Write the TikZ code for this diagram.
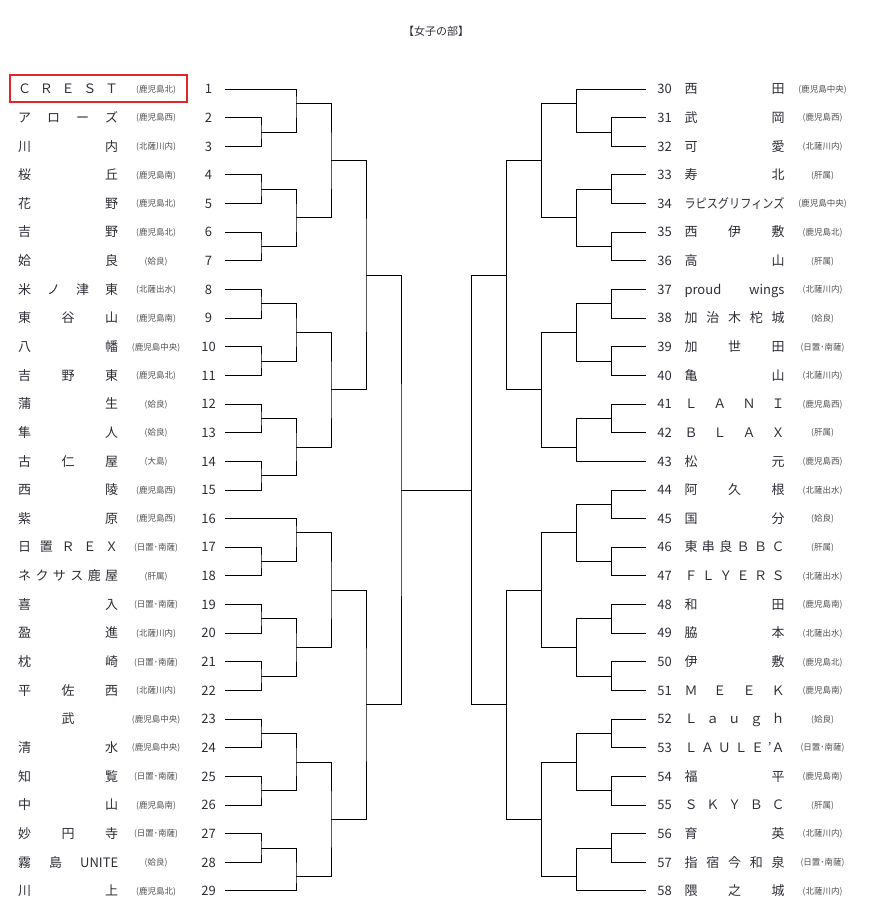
\documentclass[tikz,border=0pt]{standalone}
\usepackage{fontspec}
\usepackage{graphicx}
\setmainfont{Noto Sans CJK JP}
\definecolor{ink}{HTML}{2E2E38}
\definecolor{distink}{HTML}{505050}
\definecolor{markred}{HTML}{E0262C}
\tikzset{
  numlbl/.style={inner sep=0pt, text height=9.5pt, text depth=0pt, text=ink,
    font=\fontsize{13}{15}\selectfont},
  teamname/.style={numlbl, anchor=west},
  distlbl/.style={inner sep=0pt, text height=6.5pt, text depth=0pt, text=distink,
    font=\fontsize{8.5}{10}\selectfont},
  bline/.style={draw=black, line width=0.9pt},
  hilite/.style={draw=markred, line width=2pt, minimum width=176.5pt, minimum height=27.3pt}
}

\begin{document}
\begin{tikzpicture}[x=1pt, y=-1pt]
  \useasboundingbox (0,0) rectangle (871,913);
  \node[numlbl, font=\fontsize{11}{13}\selectfont] (head) at (436,31) {【女子の部】};

  % left half
  \foreach \n/\tm/\dist in {1/{Ｃ Ｒ Ｅ Ｓ Ｔ}/鹿児島北, 2/{ア ロ ー ズ}/鹿児島西,
      3/{川 内}/北薩川内, 4/{桜 丘}/鹿児島南, 5/{花 野}/鹿児島北, 6/{吉 野}/鹿児島北,
      7/{姶 良}/姶良, 8/{米 ノ 津 東}/北薩出水, 9/{東 谷 山}/鹿児島南,
      10/{八 幡}/鹿児島中央, 11/{吉 野 東}/鹿児島北, 12/{蒲 生}/姶良, 13/{隼 人}/姶良,
      14/{古 仁 屋}/大島, 15/{西 陵}/鹿児島西, 16/{紫 原}/鹿児島西,
      17/{日 置 Ｒ Ｅ Ｘ}/日置･南薩, 18/{ネ ク サ ス 鹿 屋}/肝属, 19/{喜 入}/日置･南薩,
      20/{盈 進}/北薩川内, 21/{枕 崎}/日置･南薩, 22/{平 佐 西}/北薩川内,
      23/{\hfil 武\hfil}/鹿児島中央, 24/{清 水}/鹿児島中央, 25/{知 覧}/日置･南薩,
      26/{中 山}/鹿児島南, 27/{妙 円 寺}/日置･南薩, 28/{霧 島 UNITE}/姶良,
      29/{川 上}/鹿児島北}{
    \pgfmathsetmacro\yy{60.36+28.64*\n}
    \node[numlbl, minimum width=33pt] (n\n) at (208.5,\yy) {\n};
    \node[teamname] (t\n) at (18,\yy) {\makebox[100pt][s]{\tm}};
    \node[distlbl] (d\n) at (156,\yy) {(\dist)};
    \coordinate (e\n) at (n\n.east);
  }

  % right half
  \foreach \n/\tm/\dist in {30/{西 田}/鹿児島中央, 31/{武 岡}/鹿児島西, 32/{可 愛}/北薩川内,
      33/{寿 北}/肝属, 34/{\resizebox{100pt}{\height}{ラピスグリフィンズ}}/鹿児島中央,
      35/{西 伊 敷}/鹿児島北, 36/{高 山}/肝属, 37/{proud wings}/北薩川内,
      38/{加 治 木 柁 城}/姶良, 39/{加 世 田}/日置･南薩, 40/{亀 山}/北薩川内,
      41/{Ｌ Ａ Ｎ Ｉ}/鹿児島西, 42/{Ｂ Ｌ Ａ Ｘ}/肝属, 43/{松 元}/鹿児島西,
      44/{阿 久 根}/北薩出水, 45/{国 分}/姶良, 46/{東 串 良 Ｂ Ｂ Ｃ}/肝属,
      47/{Ｆ Ｌ Ｙ Ｅ Ｒ Ｓ}/北薩出水, 48/{和 田}/鹿児島南, 49/{脇 本}/北薩出水,
      50/{伊 敷}/鹿児島北, 51/{Ｍ Ｅ Ｅ Ｋ}/鹿児島南, 52/{Ｌ ａ ｕ ｇ ｈ}/姶良,
      53/{Ｌ Ａ Ｕ Ｌ Ｅ ’Ａ}/日置･南薩, 54/{福 平}/鹿児島南, 55/{Ｓ Ｋ Ｙ Ｂ Ｃ}/肝属,
      56/{育 英}/北薩川内, 57/{指 宿 今 和 泉}/日置･南薩, 58/{隈 之 城}/北薩川内}{
    \pgfmathsetmacro\yy{60.36+28.64*(\n-29)}
    \node[numlbl, minimum width=36pt] (n\n) at (664.5,\yy) {\n};
    \node[teamname] (t\n) at (684.3,\yy) {\makebox[100pt][s]{\tm}};
    \node[distlbl] (d\n) at (822.5,\yy) {(\dist)};
    \coordinate (e\n) at (n\n.west);
  }

  \node[hilite] (pick) at (98.5,88.7) {};

  % first round
  \foreach \r in {2,4,...,14,17,19,...,27}{
    \pgfmathtruncatemacro\s{\r+1}
    \pgfmathsetmacro\yy{60.36+28.64*(\r+0.5)}
    \coordinate (la\r) at (261,\yy);
    \draw[bline] (e\r) -| (la\r) |- (e\s);
  }
  \foreach \r in {2,4,...,12,15,17,...,27}{
    \pgfmathtruncatemacro\p{\r+29}
    \pgfmathtruncatemacro\q{\r+30}
    \pgfmathsetmacro\yy{60.36+28.64*(\r+0.5)}
    \coordinate (ra\r) at (611.7,\yy);
    \draw[bline] (e\p) -| (ra\r) |- (e\q);
  }

  % later rounds
  \foreach \m/\x/\r/\a/\b in {lb1/296/1.5/e1/la2, lb5/296/5.5/la4/la6,
      lb9/296/9.5/la8/la10, lb13/296/13.5/la12/la14, lb16/296/16.5/e16/la17,
      lb20/296/20.5/la19/la21, lb24/296/24.5/la23/la25, lb28/296/28.5/la27/e29,
      lc3/331/3.5/lb1/lb5, lc11/331/11.5/lb9/lb13, lc18/331/18.5/lb16/lb20,
      lc26/331/26.5/lb24/lb28, ld7/366/7.5/lc3/lc11, ld22/366/22.5/lc18/lc26,
      le/401/15/ld7/ld22,
      rb1/576.7/1.5/e30/ra2, rb5/576.7/5.5/ra4/ra6, rb9/576.7/9.5/ra8/ra10,
      rb13/576.7/13.5/ra12/e43, rb16/576.7/16.5/ra15/ra17, rb20/576.7/20.5/ra19/ra21,
      rb24/576.7/24.5/ra23/ra25, rb28/576.7/28.5/ra27/e58,
      rc3/541.7/3.5/rb1/rb5, rc11/541.7/11.5/rb9/rb13, rc18/541.7/18.5/rb16/rb20,
      rc26/541.7/26.5/rb24/rb28, rd7/506.7/7.5/rc3/rc11, rd22/506.7/22.5/rc18/rc26,
      re/471.7/15/rd7/rd22}{
    \pgfmathsetmacro\yy{60.36+28.64*\r}
    \coordinate (\m) at (\x,\yy);
    \draw[bline] (\a) -| (\m) |- (\b);
  }

  \draw[bline] (le) -- (re);
\end{tikzpicture}
\end{document}
